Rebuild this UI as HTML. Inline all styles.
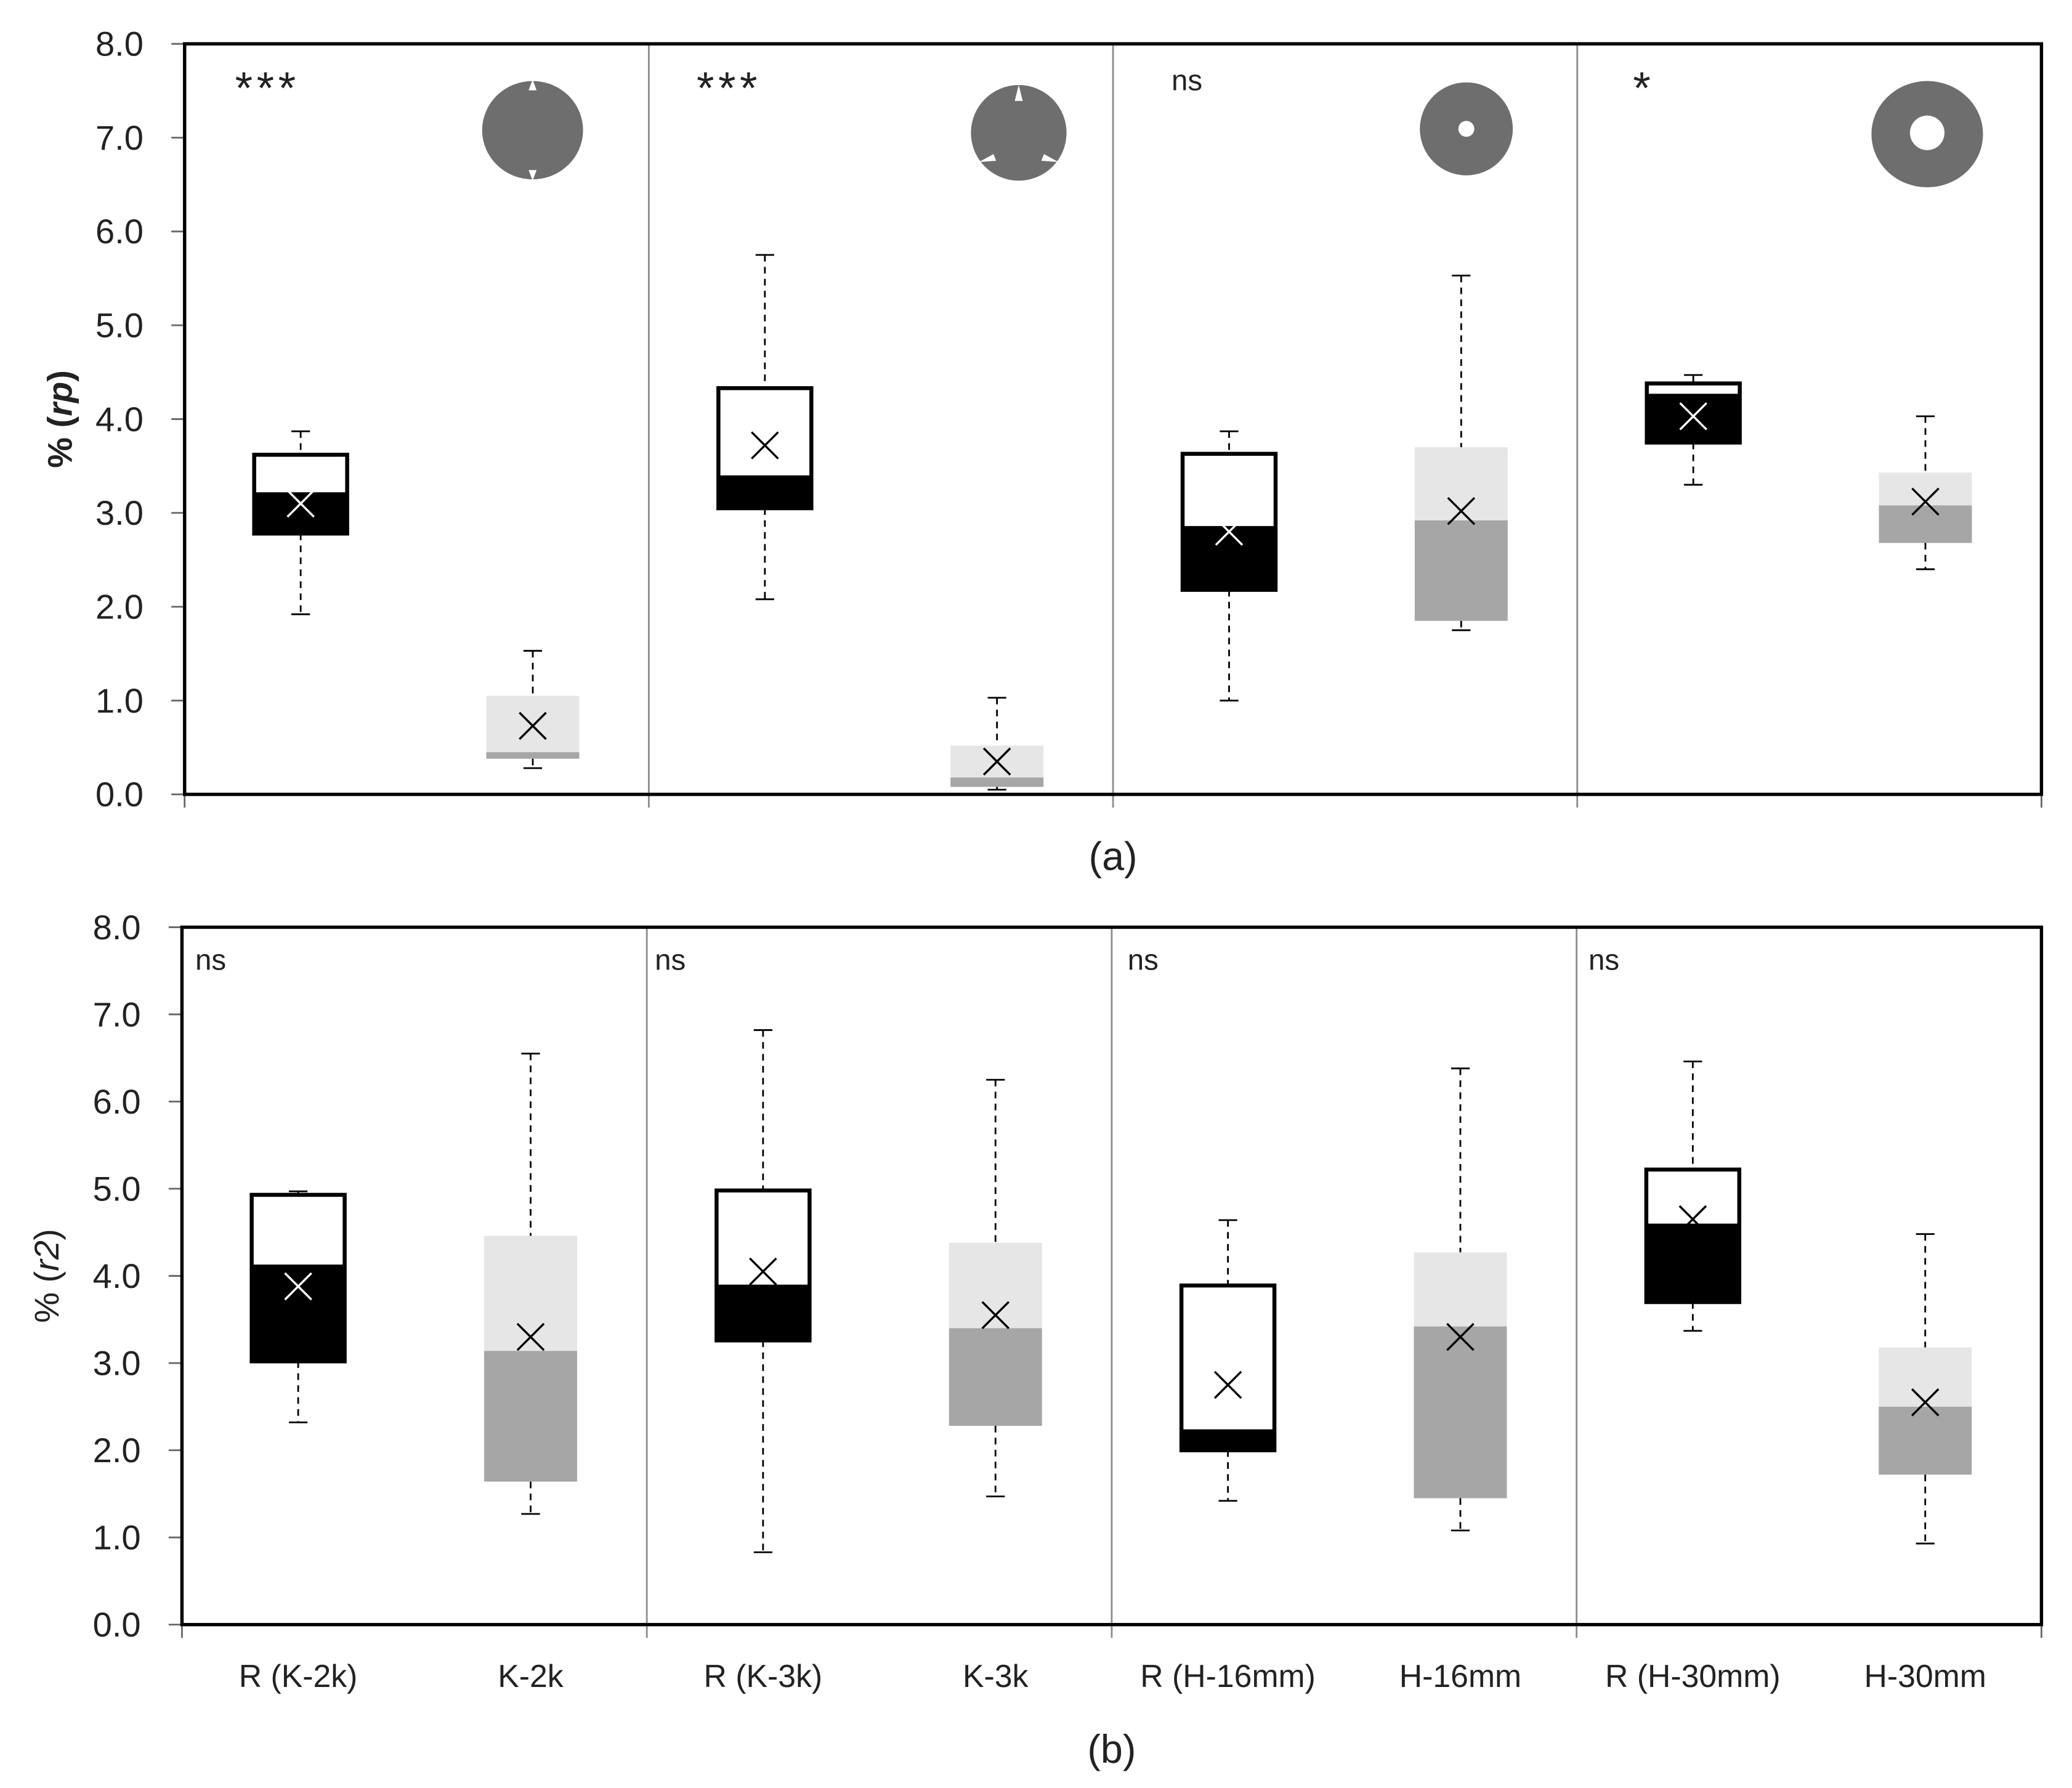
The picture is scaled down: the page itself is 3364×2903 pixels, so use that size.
<!DOCTYPE html>
<html><head><meta charset="utf-8"><style>
html,body{margin:0;padding:0;background:#fff}
svg{display:block}
text{font-family:"Liberation Sans","DejaVu Sans",sans-serif;fill:#222}
</style></head><body>
<svg id="chart" width="3364" height="2903" viewBox="0 0 1560 1346" preserveAspectRatio="none" xmlns="http://www.w3.org/2000/svg">
<rect width="1560" height="1346" fill="#fff"/>
<g id="shapes">
  <g><ellipse cx="401" cy="98" rx="38" ry="37" fill="#6e6e6e"/><path d="M401,60 L398,68 L404,68 Z M401,136 L398,128 L404,128 Z" fill="#fff"/></g>
  <g><circle cx="767" cy="100" r="36" fill="#6e6e6e"/><path d="M767,64 L764,76 L770,76 Z" fill="#fff"/><path d="M737,122 L748,116 L750,121 Z" fill="#fff"/><path d="M797,122 L786,116 L784,121 Z" fill="#fff"/></g>
  <g><circle cx="1104" cy="97" r="35" fill="#6e6e6e"/><circle cx="1104" cy="97" r="6" fill="#fff"/></g>
  <g><ellipse cx="1451" cy="101" rx="42" ry="40" fill="#6e6e6e"/><circle cx="1451" cy="100" r="13" fill="#fff"/></g>
</g>
</svg>
<script>
const categories = ["R (K-2k)","K-2k","R (K-3k)","K-3k","R (H-16mm)","H-16mm","R (H-30mm)","H-30mm"];
const yTicks = [0,1,2,3,4,5,6,7,8];
// panel a
const aWhiskLo = [1.92,0.28,2.08,0.05,1.0,1.75,3.3,2.4];
const aWhiskHi = [3.87,1.53,5.75,1.03,3.87,5.53,4.47,4.03];
const aQ1 = [2.78,0.38,3.05,0.08,2.18,1.85,3.75,2.68];
const aMedian = [3.22,0.45,3.40,0.18,2.86,2.92,4.27,3.08];
const aQ3 = [3.62,1.05,4.33,0.52,3.63,3.70,4.38,3.43];
const aMean = [3.10,0.73,3.72,0.35,2.80,3.02,4.03,3.12];
const aSig = ["***","***","ns","*"];
// panel b
const bWhiskLo = [2.32,1.27,0.83,1.47,1.42,1.08,3.37,0.93];
const bWhiskHi = [4.97,6.55,6.82,6.25,4.64,6.38,6.46,4.48];
const bQ1 = [3.02,1.64,3.26,2.28,2.00,1.45,3.70,1.72];
const bMedian = [4.13,3.14,3.90,3.40,2.24,3.42,4.60,2.50];
const bQ3 = [4.93,4.46,4.98,4.38,3.89,4.27,5.22,3.18];
const bMean = [3.88,3.30,4.05,3.55,2.75,3.30,4.65,2.55];
const bSig = ["ns","ns","ns","ns"];

const NS="http://www.w3.org/2000/svg";
const svg=document.getElementById('chart');
function el(t,a,p){const e=document.createElementNS(NS,t);for(const k in a)e.setAttribute(k,a[k]);(p||svg).appendChild(e);return e;}

function panel(cfg){
  const {L,R,T,B,wl,wh,q1,md,q3,mn,sig,ytitle,bold,label,labelY,sigY,sigOff,showX,id,ytx}=cfg;
  const g=el('g',{});
  
  
  const y=v=>B-(v/8)*(B-T);
  const band=(R-L)/categories.length;
  const x=i=>L+band*(i+0.5);
  const bw=70;
  for(let k=1;k<4;k++){
    const dx=L+band*2*k;
    const d=el('line',{x1:dx,x2:dx,y1:T,y2:B+10,stroke:'#8c8c8c','stroke-width':1.3},g);
    
    
  }
  yTicks.forEach(v=>{
    el('line',{x1:L-10,x2:L,y1:y(v),y2:y(v),stroke:'#666','stroke-width':1.3},g);
    const t=el('text',{x:L-31,y:y(v)+9,'text-anchor':'end','font-size':26},g);
    t.textContent=v.toFixed(1);
    
    
  });
  el('line',{x1:L,x2:L,y1:B,y2:B+10,stroke:'#666','stroke-width':1.3},g);
  el('line',{x1:R,x2:R,y1:B,y2:B+10,stroke:'#666','stroke-width':1.3},g);
  categories.forEach((c,i)=>{
    const bg=el('g',{},g);
    
    
    const cx=x(i), isR=i%2===0;
    el('line',{x1:cx,x2:cx,y1:y(wh[i]),y2:y(q3[i]),stroke:'#000','stroke-width':1.3,'stroke-dasharray':'5,4'},bg);
    el('line',{x1:cx,x2:cx,y1:y(q1[i]),y2:y(wl[i]),stroke:'#000','stroke-width':1.3,'stroke-dasharray':'5,4'},bg);
    el('line',{x1:cx-7,x2:cx+7,y1:y(wh[i]),y2:y(wh[i]),stroke:'#000','stroke-width':1.3},bg);
    el('line',{x1:cx-7,x2:cx+7,y1:y(wl[i]),y2:y(wl[i]),stroke:'#000','stroke-width':1.3},bg);
    if(isR){
      el('rect',{x:cx-bw/2,y:y(q3[i]),width:bw,height:y(md[i])-y(q3[i]),fill:'#fff'},bg);
      el('rect',{x:cx-bw/2,y:y(md[i]),width:bw,height:y(q1[i])-y(md[i]),fill:'#000'},bg);
      el('rect',{x:cx-bw/2,y:y(q3[i]),width:bw,height:y(q1[i])-y(q3[i]),fill:'none',stroke:'#000','stroke-width':3},bg);
    } else {
      el('rect',{x:cx-bw/2,y:y(q3[i]),width:bw,height:y(md[i])-y(q3[i]),fill:'#e6e6e6'},bg);
      el('rect',{x:cx-bw/2,y:y(md[i]),width:bw,height:y(q1[i])-y(md[i]),fill:'#a6a6a6'},bg);
    }
    const white=isR && mn[i]<md[i] && mn[i]>q1[i];
    const my=y(mn[i]),s=10;
    const m=el('path',{d:`M${cx-s},${my-s}L${cx+s},${my+s}M${cx-s},${my+s}L${cx+s},${my-s}`,stroke:white?'#fff':'#000','stroke-width':1.6},bg);
    
    
    if(showX){
      const t=el('text',{x:cx,y:B+47,'text-anchor':'middle','font-size':24},g);
      t.textContent=c;
      
      
    }
  });
  const f=el('rect',{x:L,y:T,width:R-L,height:B-T,fill:'none',stroke:'#000','stroke-width':2.5},g);
  
  
  sig.forEach((s,k)=>{
    const gx=L+band*2*k;
    const star=s.indexOf('*')>=0;
    const t=el('text',{x:gx+sigOff[k],y:sigY+(star?10:0),'font-size':star?34:22,'letter-spacing':star?3:0},g);
    t.textContent=s;
    
    
  });
  const yt=el('text',{transform:`translate(${ytx},${(T+B)/2}) rotate(-90)`,'text-anchor':'middle','font-size':26,'font-weight':bold?'bold':'normal'},g);
  yt.innerHTML='% (<tspan font-style="italic">'+ytitle+'</tspan>)';
  
  
  const lb=el('text',{x:(L+R)/2,y:labelY,'text-anchor':'middle','font-size':30},g);
  lb.textContent=label;
  
  
}
panel({id:'panel-a',L:139,R:1537,T:33,B:598,wl:aWhiskLo,wh:aWhiskHi,q1:aQ1,md:aMedian,q3:aQ3,mn:aMean,sig:aSig,sigOff:[38,36,44,42],ytitle:'rp',bold:true,label:'(a)',labelY:655,sigY:68,ytx:54,showX:false});
panel({id:'panel-b',L:137,R:1537,T:698,B:1223,wl:bWhiskLo,wh:bWhiskHi,q1:bQ1,md:bMedian,q3:bQ3,mn:bMean,sig:bSig,sigOff:[10,6,12,9],ytitle:'r2',bold:false,label:'(b)',labelY:1327,sigY:730,ytx:44,showX:true});
</script>
</body></html>
